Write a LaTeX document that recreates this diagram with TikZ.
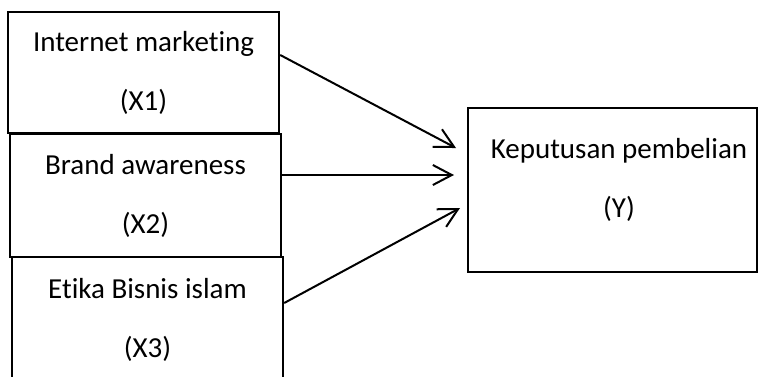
\documentclass[tikz,border=0pt]{standalone}
\usepackage{fontspec}
\setmainfont{Carlito}[Ligatures={NoCommon}]
\usetikzlibrary{arrows.meta}
\begin{document}
\begin{tikzpicture}[x=1pt,y=-1pt]
  \tikzstyle{var}=[rectangle, draw, line width=2.4pt, minimum width=271pt, inner sep=0pt, align=center, font=\fontsize{29}{59}\selectfont]
  \tikzstyle{arr}=[line width=2pt, -{Straight Barb[length=19pt,width=20pt]}]

  \useasboundingbox (0,0) rectangle (759,376);

  \node[var, minimum height=121pt] (x1) at (143.5, 72.5)  {Internet marketing\\(X1)};
  \node[var, minimum height=123pt] (x2) at (145.5, 195.5) {Brand awareness\\(X2)};
  \node[var, minimum height=125pt] (x3) at (147.5, 319.5) {Etika Bisnis islam\\(X3)};

  \node[var, minimum width=289pt, minimum height=164pt] (y) at (612.5, 190) {};
  \node[align=center, inner sep=0pt, font=\fontsize{29}{59}\selectfont] (ytext) at (619, 180) {Keputusan pembelian\\(Y)};

  \coordinate (t1) at (456, 148);
  \coordinate (t2) at (454, 175);
  \coordinate (t3) at (460, 208);

  \path[arr] ([yshift=17.5pt]x1.east) edge (t1);
  \path[arr] ([yshift=20.5pt]x2.east) edge (t2);
  \path[arr] ([yshift=16.5pt]x3.east) edge (t3);
\end{tikzpicture}
\end{document}
